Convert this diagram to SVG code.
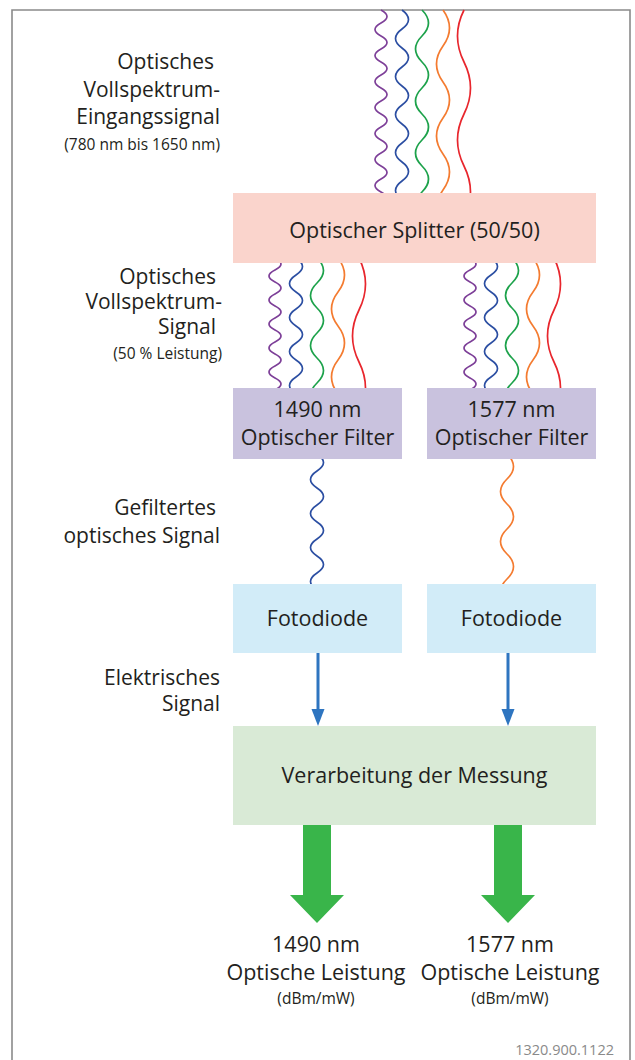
<svg xmlns="http://www.w3.org/2000/svg" width="635" height="1060" viewBox="0 0 635 1060">
<style>
text{font-family:"Open Sans","Noto Sans","Liberation Sans",sans-serif;fill:#231f20}
.l{font-size:21px;text-anchor:end}
.s{font-size:15.5px}
.c{font-size:21.5px;text-anchor:middle}
.w{fill:none;stroke-width:1.7}
.pu{stroke:#7d3f98}.bl{stroke:#2b4ea2}.gr{stroke:#1da24b}.or{stroke:#f47b30}.rd{stroke:#e8262d}
</style>
<g id="frame" fill="none" stroke="#8a8a8a" stroke-width="1.6"><path d="M12,1060 V10 H630 V1060"/></g>
<g id="waves">
<path class="w pu" d="M381,10 q12,6.5 0,13 t0,13 t0,13 t0,13 t0,13 t0,13 t0,13 t0,13 t0,13 t0,13 t0,13 t0,13 t0,13 t0,13 t0,13"/>
<path class="w bl" d="M402,10 q13,9.5 0,19 t0,19 t0,19 t0,19 t0,19 t0,19 t0,19 t0,19 t0,19 t0,19 t0,19"/>
<path class="w gr" d="M422,10 q13,13 0,26 t0,26 t0,26 t0,26 t0,26 t0,26 t0,26 t0,26"/>
<path class="w or" d="M443,10 q13,18 0,36 t0,36 t0,36 t0,36 t0,36 t0,36"/>
<path class="w rd" d="M464,10 q-13,26 0,52 t0,52 t0,52 t0,52"/>
<path class="w pu" d="M275,258 q12,6 0,12 t0,12 t0,12 t0,12 t0,12 t0,12 t0,12 t0,12 t0,12 t0,12 t0,12 t0,12"/>
<path class="w bl" d="M296,258 q13,8.5 0,17 t0,17 t0,17 t0,17 t0,17 t0,17 t0,17 t0,17"/>
<path class="w gr" d="M317,258 q13,12.5 0,25 t0,25 t0,25 t0,25 t0,25 t0,25"/>
<path class="w or" d="M338,258 q13,17 0,34 t0,34 t0,34 t0,34"/>
<path class="w rd" d="M359,258 q13,26 0,52 t0,52 t0,52"/>
<path class="w pu" d="M470,258 q12,6 0,12 t0,12 t0,12 t0,12 t0,12 t0,12 t0,12 t0,12 t0,12 t0,12 t0,12 t0,12"/>
<path class="w bl" d="M491,258 q13,8.5 0,17 t0,17 t0,17 t0,17 t0,17 t0,17 t0,17 t0,17"/>
<path class="w gr" d="M512,258 q13,12.5 0,25 t0,25 t0,25 t0,25 t0,25 t0,25"/>
<path class="w or" d="M533,258 q13,17 0,34 t0,34 t0,34 t0,34"/>
<path class="w rd" d="M554,258 q13,26 0,52 t0,52 t0,52"/>
<path class="w bl" d="M317,454 q13,8.5 0,17 t0,17 t0,17 t0,17 t0,17 t0,17 t0,17 t0,17"/>
<path class="w or" d="M507,454 q13,12.5 0,25 t0,25 t0,25 t0,25 t0,25 t0,25"/>
</g>
<g id="splitter"><rect x="233" y="193" width="363" height="70" fill="#fad4cc"/><text class="c" x="414.5" y="238">Optischer Splitter (50/50)</text></g>
<g id="filter1490"><rect x="233" y="388" width="169" height="71" fill="#c9c2de"/><text class="c" x="317.5" y="417">1490 nm</text><text class="c" x="317.5" y="445">Optischer Filter</text></g>
<g id="filter1577"><rect x="427" y="388" width="169" height="71" fill="#c9c2de"/><text class="c" x="511.5" y="417">1577 nm</text><text class="c" x="511.5" y="445">Optischer Filter</text></g>
<g id="diode1"><rect x="233" y="584" width="169" height="69" fill="#d2ecf8"/><text class="c" x="317.5" y="626">Fotodiode</text></g>
<g id="diode2"><rect x="427" y="584" width="169" height="69" fill="#d2ecf8"/><text class="c" x="511.5" y="626">Fotodiode</text></g>
<g id="processing"><rect x="233" y="726" width="363" height="99" fill="#d9ead6"/><text class="c" x="414.5" y="783">Verarbeitung der Messung</text></g>
<g id="connectors">
<path d="M318,653 V712 M508,653 V712" stroke="#2e75c0" stroke-width="3"/>
<polygon points="311.5,709 324.5,709 318,726" fill="#2e75c0"/>
<polygon points="501.5,709 514.5,709 508,726" fill="#2e75c0"/>
<polygon points="303,825 331,825 331,895 344,895 317,923 290,895 303,895" fill="#39b54a"/>
<polygon points="494,825 522,825 522,895 535,895 508,923 481,895 494,895" fill="#39b54a"/>
</g>
<g id="labels">
<text class="l" x="214" y="69">Optisches</text>
<text class="l" x="220" y="97">Vollspektrum-</text>
<text class="l" x="220" y="124">Eingangssignal</text>
<text class="s" x="220" y="150" text-anchor="end">(780 nm bis 1650 nm)</text>
<text class="l" x="216" y="284">Optisches</text>
<text class="l" x="222" y="309">Vollspektrum-</text>
<text class="l" x="216" y="334">Signal</text>
<text class="s" x="222" y="359" text-anchor="end">(50 % Leistung)</text>
<text class="l" x="216" y="515">Gefiltertes</text>
<text class="l" x="220" y="543">optisches Signal</text>
<text class="l" x="220" y="685">Elektrisches</text>
<text class="l" x="220" y="711">Signal</text>
</g>
<g id="out1490"><text class="c" x="316" y="952">1490 nm</text><text class="c" x="316" y="980">Optische Leistung</text><text class="s" x="316" y="1004" text-anchor="middle">(dBm/mW)</text></g>
<g id="out1577"><text class="c" x="510" y="952">1577 nm</text><text class="c" x="510" y="980">Optische Leistung</text><text class="s" x="510" y="1004" text-anchor="middle">(dBm/mW)</text></g>
<text x="614" y="1055" text-anchor="end" style="font-size:14.5px;fill:#8a8a8a">1320.900.1122</text>
</svg>
